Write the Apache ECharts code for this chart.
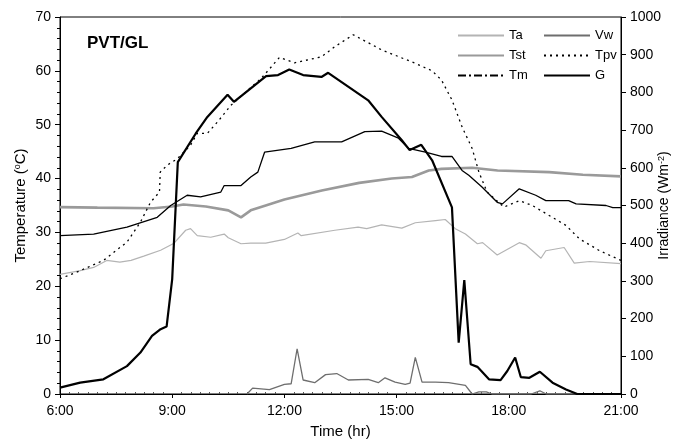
<!DOCTYPE html>
<html>
<head>
<meta charset="utf-8">
<script src="https://cdn.jsdelivr.net/npm/echarts@6/dist/echarts.min.js"></script>
<style>
  html, body { margin: 0; padding: 0; background: #fff; }
  #chart { width: 673px; height: 443px; }
</style>
</head>
<body>
<div id="chart"></div>
<script>
// time in decimal hours
const taTime = [6.0, 6.54, 6.9, 7.25, 7.6, 7.9, 8.24, 8.69, 9.05, 9.36, 9.49, 9.67, 10.03, 10.39, 10.5, 10.84, 11.1, 11.5, 12.0, 12.36, 12.45, 13.35, 13.97, 14.2, 14.6, 15.14, 15.5, 16.04, 16.3, 16.57, 16.84, 17.16, 17.3, 17.69, 18.28, 18.45, 18.86, 18.99, 19.48, 19.75, 20.16, 21.0];
const taVal = [22.2, 22.9, 23.5, 24.8, 24.5, 24.8, 25.6, 26.7, 28.0, 30.4, 30.7, 29.4, 29.1, 29.7, 29.0, 27.9, 28.0, 28.0, 28.7, 29.9, 29.4, 30.4, 31.0, 30.7, 31.4, 30.8, 31.8, 32.2, 32.4, 30.7, 29.7, 27.9, 28.1, 25.8, 28.1, 27.7, 25.2, 26.6, 27.2, 24.3, 24.6, 24.2];

const tstTime = [6.0, 7.0, 8.5, 9.0, 9.3, 9.9, 10.5, 10.84, 11.1, 11.5, 12.0, 13.0, 14.0, 14.87, 15.41, 15.86, 16.2, 17.02, 17.7, 19.08, 19.98, 21.0];
const tstVal = [34.7, 34.6, 34.5, 34.8, 35.2, 34.8, 34.1, 32.8, 34.1, 35.0, 36.1, 37.8, 39.2, 40.0, 40.3, 41.5, 41.8, 42.0, 41.5, 41.2, 40.7, 40.4];

const tmTime = [6.0, 6.9, 7.79, 8.6, 8.96, 9.4, 9.76, 10.3, 10.39, 10.84, 11.1, 11.29, 11.47, 12.18, 12.81, 13.53, 14.15, 14.6, 15.05, 15.32, 15.77, 16.2, 16.48, 16.75, 16.93, 17.29, 17.69, 17.83, 18.28, 18.72, 18.99, 19.6, 19.8, 20.6, 20.78, 21.0];
const tmVal = [29.4, 29.7, 31.0, 32.8, 35.0, 36.9, 36.6, 37.5, 38.7, 38.7, 40.3, 41.2, 44.9, 45.6, 46.8, 46.8, 48.7, 48.8, 47.5, 45.6, 44.9, 44.1, 44.1, 41.5, 40.6, 38.4, 35.6, 35.3, 38.1, 36.9, 35.9, 35.9, 35.3, 35.0, 34.6, 34.6];

const vwTime = [11.0, 11.05, 11.15, 11.6, 12.0, 12.18, 12.34, 12.5, 12.81, 13.1, 13.4, 13.71, 14.24, 14.51, 14.69, 14.96, 15.23, 15.36, 15.5, 15.68, 16.04, 16.39, 16.84, 17.02, 17.2, 17.4, 17.55, 18.6, 18.83, 19.0, 21.0];
const vwVal = [0, 0.3, 1.1, 0.8, 1.8, 1.9, 8.4, 2.6, 2.1, 3.6, 3.8, 2.6, 2.7, 2.1, 3.0, 2.2, 1.8, 2.0, 6.8, 2.2, 2.2, 2.1, 1.6, 0, 0.4, 0.4, 0, 0, 0.6, 0, 0];

const tpvTime = [6.0, 6.54, 7.16, 7.79, 8.15, 8.42, 8.66, 8.68, 8.87, 9.14, 9.49, 9.67, 9.94, 10.21, 10.57, 11.02, 11.38, 11.87, 11.95, 12.27, 12.99, 13.35, 13.84, 14.6, 15.5, 15.95, 16.2, 16.48, 16.75, 17.02, 17.2, 17.42, 17.87, 18.28, 18.63, 19.53, 19.89, 20.43, 21.0];
const tpvVal = [21.4, 22.9, 24.8, 28.2, 31.9, 35.6, 37.5, 41.2, 42.5, 43.7, 46.2, 48.4, 48.4, 50.5, 53.6, 56.4, 58.6, 62.5, 62.3, 61.5, 62.6, 64.5, 66.7, 63.9, 61.4, 60.0, 58.3, 54.6, 49.6, 45.6, 41.2, 37.5, 34.7, 35.9, 35.0, 31.3, 28.8, 26.6, 24.8];

const gTime = [6.0, 6.54, 7.16, 7.79, 8.15, 8.46, 8.69, 8.85, 9.0, 9.15, 9.63, 9.94, 10.48, 10.65, 11.51, 11.83, 12.13, 12.5, 12.99, 13.17, 14.24, 14.6, 15.14, 15.35, 15.66, 15.95, 16.48, 16.66, 16.81, 16.98, 17.16, 17.47, 17.78, 17.96, 18.17, 18.32, 18.55, 18.83, 19.17, 19.53, 19.83, 21.0];
const gVal = [17, 30, 39, 74, 110, 154, 172, 179, 305, 615, 691, 735, 794, 775, 843, 846, 861, 846, 841, 852, 779, 735, 673, 647, 661, 620, 495, 136, 302, 79, 72, 39, 37, 61, 97, 45, 43, 59, 30, 12, 0, 0];

const xTicks = [6, 9, 12, 15, 18, 21];

const pairs = (t, v) => t.map((x, i) => [x, v[i]]);

const chart = echarts.init(document.getElementById('chart'));

const baseLine = { type: 'line', symbol: 'none', showSymbol: false, animation: false };
const legendBase = {
  orient: 'vertical', top: 24, itemWidth: 46, itemHeight: 10, itemGap: 7,
  selectedMode: false, itemStyle: { opacity: 0 },
  textStyle: { fontSize: 13, color: '#000' }
};
const supStyle = { sup: { fontSize: 9, verticalAlign: 'top', padding: [0, 0, 6, 0] } };

const option = {
  animation: false,
  textStyle: { fontFamily: 'Liberation Sans, Arial, sans-serif', color: '#000' },
  grid: {
    left: 60, right: 52, top: 17, bottom: 49, outerBoundsMode: 'none',
    show: true, borderColor: '#000', borderWidth: 1
  },
  title: {
    text: 'PVT/GL', left: 82, top: 30,
    textStyle: { fontSize: 17, fontWeight: 'bold', color: '#000', fontFamily: 'Liberation Sans, Arial, sans-serif' }
  },
  legend: [
    Object.assign({}, legendBase, {
      left: 452,
      data: ['Ta', 'Tst', { name: 'Tm', lineStyle: { type: [8, 3, 2, 3] } }]
    }),
    Object.assign({}, legendBase, {
      left: 538,
      data: ['Vw', 'Tpv', 'G']
    })
  ],
  xAxis: {
    type: 'value', min: 6, max: 21, interval: 3,
    name: 'Time (hr)', nameLocation: 'middle', nameGap: 30,
    nameTextStyle: { fontSize: 15, color: '#000' },
    axisLine: { lineStyle: { color: '#000', width: 1 } },
    axisTick: { show: true, length: 4, lineStyle: { color: '#000' } },
    minorTick: { show: true, splitNumber: 12, length: -2, lineStyle: { color: '#555' } },
    axisLabel: { fontSize: 14, color: '#000', margin: 10, formatter: v => (xTicks.includes(v) ? v + ':00' : '') },
    splitLine: { show: false }
  },
  yAxis: [
    {
      type: 'value', min: 0, max: 70, interval: 10,
      name: 'Temperature ({sup|o}C)', nameLocation: 'middle', nameGap: 32, nameMoveOverlap: false,
      nameTextStyle: { fontSize: 15, color: '#000', rich: supStyle },
      axisLine: { show: true, lineStyle: { color: '#000', width: 1 } },
      axisTick: { show: true, length: 5, lineStyle: { color: '#000' } },
      minorTick: { show: true, splitNumber: 5, length: 3, lineStyle: { color: '#000' } },
      axisLabel: { fontSize: 14, color: '#000', margin: 9 },
      splitLine: { show: false }
    },
    {
      type: 'value', min: 0, max: 1000, interval: 100, position: 'right',
      name: 'Irradiance (Wm{sup|-2})', nameLocation: 'middle', nameGap: 36, nameRotate: 90, nameMoveOverlap: false,
      nameTextStyle: { fontSize: 14, color: '#000', rich: supStyle },
      axisLine: { show: true, lineStyle: { color: '#000', width: 1 } },
      axisTick: { show: true, length: 5, lineStyle: { color: '#000' } },
      axisLabel: { fontSize: 14, color: '#000', margin: 9, formatter: v => String(v) },
      splitLine: { show: false }
    }
  ],
  series: [
    Object.assign({}, baseLine, { name: 'Ta', yAxisIndex: 0, data: pairs(taTime, taVal),
      color: '#b4b4b4', lineStyle: { color: '#b4b4b4', width: 1.2 } }),
    Object.assign({}, baseLine, { name: 'Tst', yAxisIndex: 0, data: pairs(tstTime, tstVal),
      color: '#9a9a9a', lineStyle: { color: '#9a9a9a', width: 2.6 } }),
    Object.assign({}, baseLine, { name: 'Tm', yAxisIndex: 0, data: pairs(tmTime, tmVal),
      color: '#000', lineStyle: { color: '#000', width: 1.3 } }),
    Object.assign({}, baseLine, { name: 'Vw', yAxisIndex: 0, data: pairs(vwTime, vwVal),
      color: '#6e6e6e', lineStyle: { color: '#6e6e6e', width: 1.3 } }),
    Object.assign({}, baseLine, { name: 'Tpv', yAxisIndex: 0, data: pairs(tpvTime, tpvVal),
      color: '#000', lineStyle: { color: '#000', width: 1.3, type: [2, 4] } }),
    Object.assign({}, baseLine, { name: 'G', yAxisIndex: 1, data: pairs(gTime, gVal),
      color: '#000', lineStyle: { color: '#000', width: 2.2 } })
  ]
};

chart.setOption(option);
</script>
</body>
</html>
